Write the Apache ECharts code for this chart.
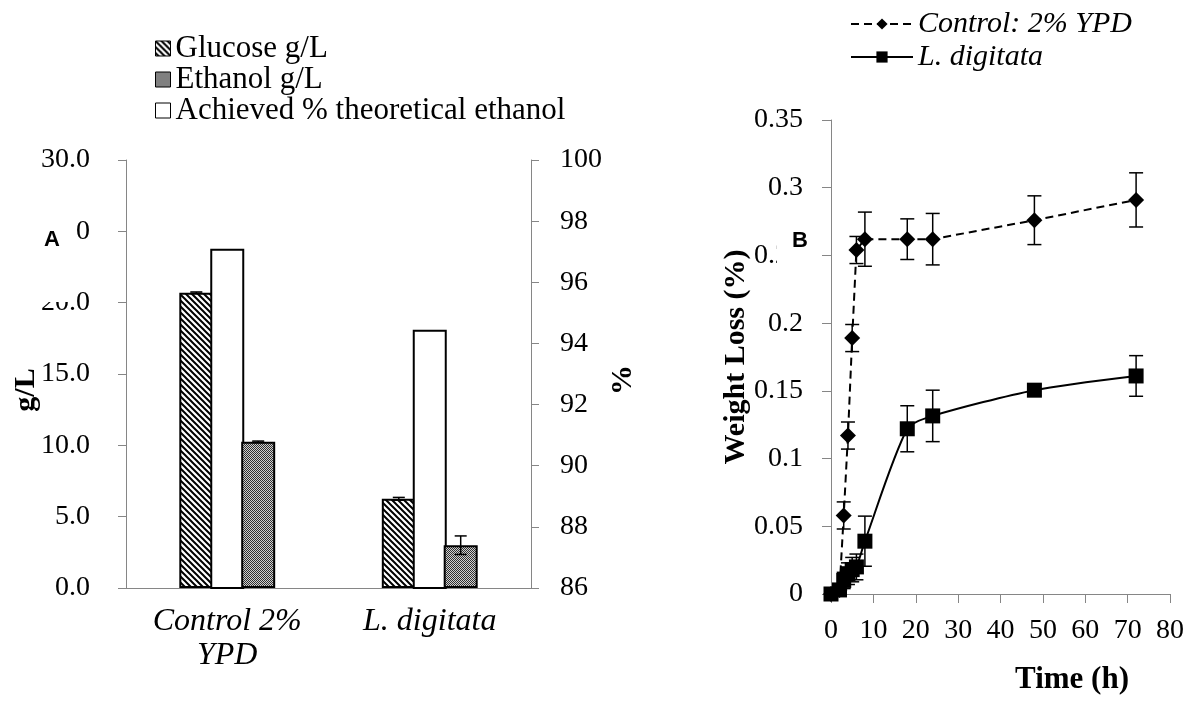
<!DOCTYPE html>
<html>
<head>
<meta charset="utf-8">
<script src="https://cdn.jsdelivr.net/npm/echarts@6/dist/echarts.min.js"></script>
<style>
html, body { margin: 0; padding: 0; background: #fff; }
#main { width: 1196px; height: 702px; }
</style>
</head>
<body>
<div id="main"></div>
<script>
"use strict";

// Panel A: bars (g/L on left axis, % on right axis)
const categories = ['Control 2%\nYPD', 'L. digitata'];
const glucose = [20.7, 6.25];
const glucoseErr = [0.05, 0.1];
const ethanol = [10.25, 3.0];
const ethanolErr = [0.05, 0.65];
const achieved = [97.1, 94.45];

// Panel B: weight loss over time
const hours = [0, 2, 3, 4, 5, 6, 8, 18, 24, 48, 72];
const controlLoss = [0, 0.003, 0.058, 0.117, 0.189, 0.254, 0.262, 0.262, 0.262, 0.276, 0.291];
const controlErr = [0, 0.002, 0.01, 0.01, 0.01, 0.01, 0.02, 0.015, 0.019, 0.018, 0.02];
const digitataLoss = [0, 0.003, 0.01, 0.015, 0.018, 0.02, 0.039, 0.122, 0.1315, 0.1505, 0.161];
const digitataErr = [0, 0.002, 0.006, 0.008, 0.009, 0.0095, 0.0185, 0.017, 0.019, 0.004, 0.015];

const FONT = 'Liberation Serif';
const AXIS_GREY = '#868686';
const BAR_W = 34;
const BAR_GAP = -0.09;

// hatch "\\" pattern for glucose
function hatchPattern() {
    const s = 6;
    const c = document.createElement('canvas');
    c.width = s; c.height = s;
    const ctx = c.getContext('2d');
    ctx.fillStyle = '#fff';
    ctx.fillRect(0, 0, s, s);
    ctx.strokeStyle = '#000';
    ctx.lineWidth = 2;
    ctx.beginPath();
    ctx.moveTo(-1, -1); ctx.lineTo(s + 1, s + 1);
    ctx.moveTo(-1, s - 1); ctx.lineTo(1, s + 1);
    ctx.moveTo(s - 1, -1); ctx.lineTo(s + 1, 1);
    ctx.stroke();
    return { image: c, repeat: 'repeat' };
}

// fine checker pattern for ethanol
function checkerPattern() {
    const c = document.createElement('canvas');
    c.width = 2; c.height = 2;
    const ctx = c.getContext('2d');
    ctx.fillStyle = '#d0d0d0';
    ctx.fillRect(0, 0, 2, 2);
    ctx.fillStyle = '#303030';
    ctx.fillRect(0, 0, 1, 1);
    ctx.fillRect(1, 1, 1, 1);
    return { image: c, repeat: 'repeat' };
}

// error bar drawer; shift moves it onto the matching bar
const errorBar = (shift, cap) => (params, api) => {
    const e = api.value(2);
    if (!e) return null;
    const x = api.coord([api.value(0), api.value(1)])[0] + shift;
    const top = api.coord([api.value(0), api.value(1) + e])[1];
    const bot = api.coord([api.value(0), api.value(1) - e])[1];
    const st = { stroke: '#000', lineWidth: 1.5 };
    return {
        type: 'group',
        children: [
            { type: 'line', shape: { x1: x, y1: top, x2: x, y2: bot }, style: st },
            { type: 'line', shape: { x1: x - cap, y1: top, x2: x + cap, y2: top }, style: st },
            { type: 'line', shape: { x1: x - cap, y1: bot, x2: x + cap, y2: bot }, style: st }
        ]
    };
};

const chart = echarts.init(document.getElementById('main'));

const barShift = BAR_W * (1 + BAR_GAP);

const axisCommon = {
    axisLine: { show: true, lineStyle: { color: AXIS_GREY, width: 1 } },
    axisTick: { show: true, length: 8, lineStyle: { color: AXIS_GREY } },
    splitLine: { show: false }
};

const option = {
    animation: false,
    backgroundColor: '#fff',
    textStyle: { fontFamily: FONT, color: '#000' },
    grid: [
        { left: 126, top: 160, right: 665, bottom: 114 },
        { left: 831, top: 120, right: 26, bottom: 108 }
    ],
    legend: [{
        data: ['Glucose g/L', 'Ethanol g/L', 'Achieved % theoretical ethanol'],
        orient: 'vertical',
        left: 150,
        top: 28,
        icon: 'rect',
        itemWidth: 15,
        itemHeight: 15,
        itemGap: 0,
        selectedMode: false,
        itemStyle: { borderColor: '#000', borderWidth: 1 },
        textStyle: { fontFamily: FONT, fontSize: 31, lineHeight: 31, color: '#000' }
    }, {
        data: ['Control: 2% YPD', 'L. digitata'],
        orient: 'vertical',
        left: 845,
        top: 4,
        itemWidth: 62,
        itemHeight: 14,
        itemGap: 3,
        selectedMode: false,
        textStyle: { fontFamily: FONT, fontSize: 30, lineHeight: 30, fontStyle: 'italic', color: '#000' }
    }],
    xAxis: [{
        type: 'category',
        gridIndex: 0,
        data: categories,
        axisLine: { lineStyle: { color: AXIS_GREY } },
        axisTick: { length: 8, lineStyle: { color: AXIS_GREY } },
        axisLabel: { fontSize: 32, lineHeight: 34, fontStyle: 'italic', margin: 17, color: '#000' }
    }, Object.assign({}, axisCommon, {
        type: 'value',
        gridIndex: 1,
        min: 0,
        max: 80,
        interval: 10,
        axisTick: { show: true, length: 9, lineStyle: { color: AXIS_GREY } },
        axisLabel: { fontSize: 28, margin: 23, color: '#000' }
    })],
    yAxis: [Object.assign({}, axisCommon, {
        type: 'value',
        gridIndex: 0,
        min: 0,
        max: 30,
        interval: 5,
        axisLabel: { fontSize: 28, margin: 36, color: '#000', formatter: v => v.toFixed(1) }
    }), Object.assign({}, axisCommon, {
        type: 'value',
        gridIndex: 0,
        position: 'right',
        min: 86,
        max: 100,
        interval: 2,
        axisLabel: { fontSize: 28, margin: 29, color: '#000' }
    }), Object.assign({}, axisCommon, {
        type: 'value',
        gridIndex: 1,
        min: 0,
        max: 0.35,
        interval: 0.05,
        axisTick: { show: true, length: 9, lineStyle: { color: AXIS_GREY } },
        axisLabel: { fontSize: 28, margin: 28, color: '#000' }
    })],
    series: [{
        name: 'Glucose g/L',
        type: 'bar',
        xAxisIndex: 0,
        yAxisIndex: 0,
        barWidth: BAR_W,
        barGap: (BAR_GAP * 100) + '%',
        itemStyle: { color: hatchPattern(), borderColor: '#000', borderWidth: 2 },
        data: glucose
    }, {
        name: 'Achieved % theoretical ethanol',
        type: 'bar',
        xAxisIndex: 0,
        yAxisIndex: 1,
        barWidth: BAR_W,
        barGap: (BAR_GAP * 100) + '%',
        itemStyle: { color: '#fff', borderColor: '#000', borderWidth: 2 },
        data: achieved
    }, {
        name: 'Ethanol g/L',
        type: 'bar',
        xAxisIndex: 0,
        yAxisIndex: 0,
        barWidth: BAR_W,
        barGap: (BAR_GAP * 100) + '%',
        itemStyle: { color: checkerPattern(), borderColor: '#000', borderWidth: 2 },
        data: ethanol
    }, {
        type: 'custom',
        xAxisIndex: 0,
        yAxisIndex: 0,
        z: 5,
        renderItem: errorBar(-barShift, 6),
        data: glucose.map((v, i) => [i, v, glucoseErr[i]])
    }, {
        type: 'custom',
        xAxisIndex: 0,
        yAxisIndex: 0,
        z: 5,
        renderItem: errorBar(barShift, 6),
        data: ethanol.map((v, i) => [i, v, ethanolErr[i]])
    }, {
        name: 'Control: 2% YPD',
        type: 'line',
        xAxisIndex: 1,
        yAxisIndex: 2,
        symbol: 'diamond',
        symbolSize: 16,
        itemStyle: { color: '#000' },
        lineStyle: { color: '#000', width: 2, type: [8, 5] },
        z: 4,
        data: hours.map((h, i) => [h, controlLoss[i]])
    }, {
        name: 'L. digitata',
        type: 'line',
        xAxisIndex: 1,
        yAxisIndex: 2,
        symbol: 'rect',
        symbolSize: 15,
        smooth: 0.25,
        itemStyle: { color: '#000' },
        lineStyle: { color: '#000', width: 2 },
        z: 4,
        data: hours.map((h, i) => [h, digitataLoss[i]])
    }, {
        type: 'custom',
        xAxisIndex: 1,
        yAxisIndex: 2,
        z: 3,
        renderItem: errorBar(0, 7),
        data: hours.map((h, i) => [h, controlLoss[i], controlErr[i]])
    }, {
        type: 'custom',
        xAxisIndex: 1,
        yAxisIndex: 2,
        z: 3,
        renderItem: errorBar(0, 7),
        data: hours.map((h, i) => [h, digitataLoss[i], digitataErr[i]])
    }],
    graphic: [
        // panel letters sit on white boxes over the tick labels, as in the figure
        { type: 'rect', z: 100, shape: { x: 30, y: 210, width: 46, height: 92 }, style: { fill: '#fff' } },
        { type: 'text', z: 101, x: 52, y: 240, style: { text: 'A', font: 'bold 22px "Liberation Sans"', fill: '#000', textAlign: 'center', textVerticalAlign: 'middle' } },
        { type: 'rect', z: 100, shape: { x: 777, y: 212, width: 45, height: 80 }, style: { fill: '#fff' } },
        { type: 'text', z: 101, x: 800, y: 241, style: { text: 'B', font: 'bold 22px "Liberation Sans"', fill: '#000', textAlign: 'center', textVerticalAlign: 'middle' } },
        // axis titles
        { type: 'text', z: 101, x: 26, y: 390, rotation: Math.PI / 2, style: { text: 'g/L', font: 'bold 30px "Liberation Serif"', fill: '#000', textAlign: 'center', textVerticalAlign: 'middle' } },
        { type: 'text', z: 101, x: 623, y: 380, rotation: Math.PI / 2, style: { text: '%', font: 'bold 30px "Liberation Serif"', fill: '#000', textAlign: 'center', textVerticalAlign: 'middle' } },
        { type: 'text', z: 101, x: 736, y: 357, rotation: Math.PI / 2, style: { text: 'Weight Loss (%)', font: 'bold 30px "Liberation Serif"', fill: '#000', textAlign: 'center', textVerticalAlign: 'middle' } },
        { type: 'text', z: 101, x: 1072, y: 680, style: { text: 'Time (h)', font: 'bold 31px "Liberation Serif"', fill: '#000', textAlign: 'center', textVerticalAlign: 'middle' } }
    ]
};

chart.setOption(option);
</script>
</body>
</html>
